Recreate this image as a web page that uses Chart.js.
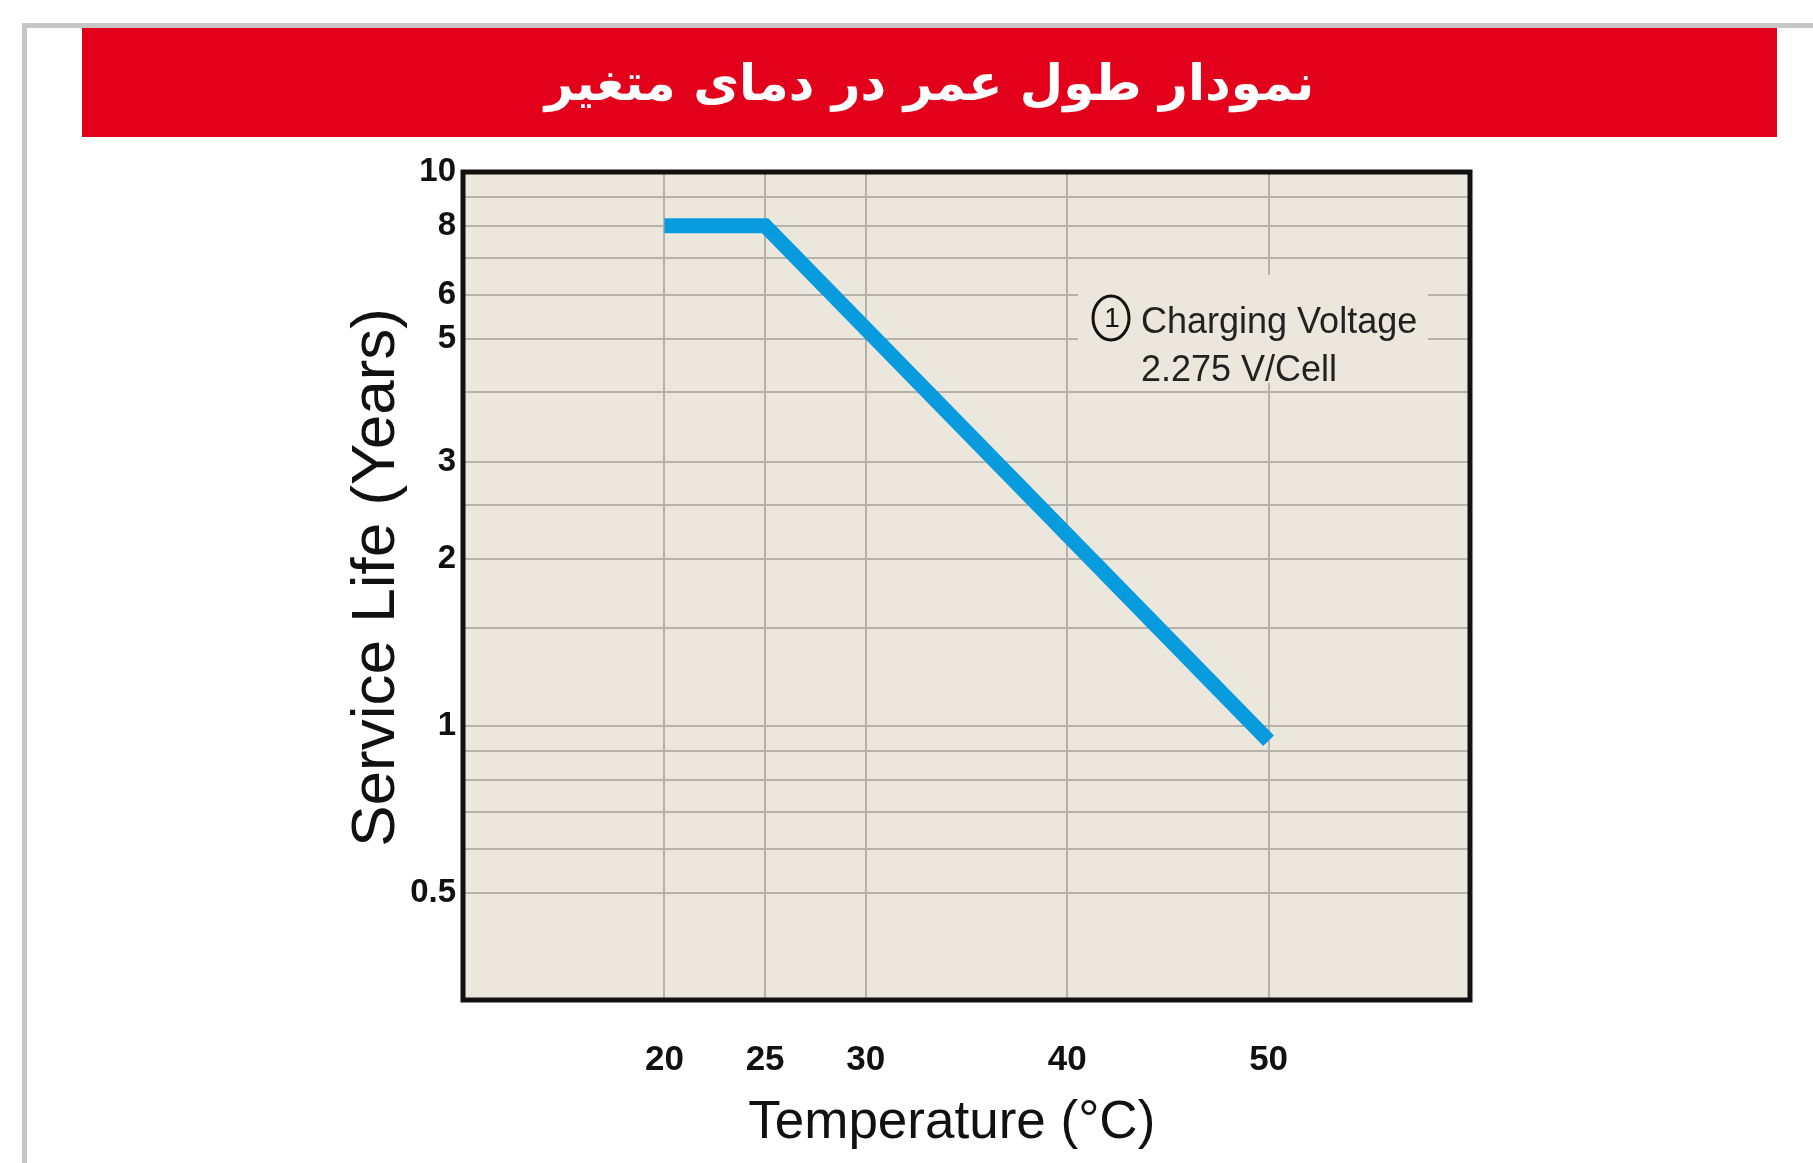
<!DOCTYPE html>
<html>
<head>
<meta charset="utf-8">
<script src="https://cdn.jsdelivr.net/npm/chart.js@4.4.1/dist/chart.umd.min.js"></script>
<style>
  html, body { margin: 0; padding: 0; background: #fff; }
  body { width: 1813px; height: 1163px; position: relative; overflow: hidden; }
  .frame {
    position: absolute; left: 22px; top: 23px; right: -10px; bottom: -10px;
    border-top: 5px solid #c6c6c6; border-left: 5px solid #c6c6c6;
  }
  .banner {
    position: absolute; left: 82px; top: 28px; width: 1695px; height: 109px;
    background: #e2001a; color: #fff;
    display: flex; align-items: center; justify-content: center;
    font-family: "DejaVu Sans", sans-serif; font-weight: bold; font-size: 50px;
    direction: rtl;
  }
  #wrap { position: absolute; left: 0; top: 140px; width: 1813px; height: 1023px; }
</style>
</head>
<body>
<div class="frame"></div>
<div class="banner">نمودار طول عمر در دمای متغیر</div>
<div id="wrap"><canvas id="lifeChart" width="1813" height="1023"></canvas></div>
<script>
// Data
const temps = [20, 25, 50];
const serviceLife = [8, 8, 0.94];

// Axis ticks
const xTicks = [20, 25, 30, 40, 50];
const yGridTicks = [0.5, 0.6, 0.7, 0.8, 0.9, 1, 1.5, 2, 2.5, 3, 4, 5, 6, 7, 8, 9, 10];
const yLabelTicks = [0.5, 1, 2, 3, 5, 6, 8, 10];

const noteLines = ['Charging Voltage', '2.275 V/Cell'];

const FONT = '"Liberation Sans", Arial, Helvetica, sans-serif';
const PLOT_BG = '#ebe7dc';

// Plot background, note box and frame
const plotDecor = {
    id: 'plotDecor',
    beforeDraw(chart) {
        const { ctx, chartArea: a } = chart;
        ctx.save();
        ctx.fillStyle = PLOT_BG;
        ctx.fillRect(a.left, a.top, a.right - a.left, a.bottom - a.top);
        ctx.restore();
    },
    beforeDatasetsDraw(chart) {
        const { ctx, chartArea: a } = chart;
        const left = a.left + 615, top = a.top + 103;
        ctx.save();
        ctx.fillStyle = PLOT_BG;
        ctx.fillRect(left, top, 350, 108);

        // circled "1"
        ctx.strokeStyle = '#111';
        ctx.lineWidth = 3;
        ctx.beginPath();
        ctx.ellipse(left + 33, top + 43, 18, 22, 0, 0, Math.PI * 2);
        ctx.stroke();
        ctx.fillStyle = '#111';
        ctx.font = '28px ' + FONT;
        ctx.textAlign = 'center';
        ctx.textBaseline = 'middle';
        ctx.fillText('1', left + 34, top + 44);

        ctx.font = '36px ' + FONT;
        ctx.textAlign = 'left';
        ctx.textBaseline = 'alphabetic';
        ctx.fillStyle = '#222';
        ctx.fillText(noteLines[0], left + 63, top + 58);
        ctx.fillText(noteLines[1], left + 63, top + 106);
        ctx.restore();
    },
    afterDraw(chart) {
        const { ctx, chartArea: a } = chart;
        ctx.save();
        ctx.strokeStyle = '#111';
        ctx.lineWidth = 5;
        ctx.strokeRect(a.left, a.top, a.right - a.left, a.bottom - a.top);
        ctx.restore();
    }
};

new Chart(document.getElementById('lifeChart'), {
    type: 'line',
    data: {
        datasets: [{
            data: temps.map((t, i) => ({ x: t, y: serviceLife[i] })),
            borderColor: '#089cdf',
            borderWidth: 15,
            borderCapStyle: 'butt',
            borderJoinStyle: 'miter',
            pointRadius: 0,
            tension: 0,
            fill: false
        }]
    },
    options: {
        responsive: false,
        animation: false,
        layout: { padding: { left: 303, right: 343, top: 32, bottom: 8 } },
        plugins: {
            legend: { display: false },
            tooltip: { enabled: false }
        },
        scales: {
            x: {
                type: 'linear',
                min: 10,
                max: 60,
                afterBuildTicks: scale => { scale.ticks = xTicks.map(v => ({ value: v })); },
                afterFit: scale => { scale.height = 155; },
                grid: { color: '#b6b2a9', lineWidth: 2, drawTicks: false },
                border: { display: false },
                ticks: {
                    autoSkip: false,
                    maxRotation: 0,
                    padding: 39,
                    color: '#111',
                    font: { family: FONT, size: 35, weight: 'bold' }
                },
                title: {
                    display: true,
                    text: 'Temperature (°C)  ',
                    color: '#111',
                    padding: { top: 0, bottom: 0 },
                    font: { family: FONT, size: 53 }
                }
            },
            y: {
                type: 'logarithmic',
                bounds: 'data',
                min: 0.32,
                max: 10,
                afterBuildTicks: scale => { scale.ticks = yGridTicks.map(v => ({ value: v })); },
                afterFit: scale => { scale.width = 160; },
                grid: { color: '#b6b2a9', lineWidth: 2, drawTicks: false },
                border: { display: false },
                ticks: {
                    autoSkip: false,
                    padding: 7,
                    color: '#111',
                    font: { family: FONT, size: 33, weight: 'bold' },
                    callback: value => yLabelTicks.includes(value) ? String(value) : ''
                },
                title: {
                    display: true,
                    text: ' Service Life (Years)',
                    color: '#111',
                    padding: { top: 37, bottom: 0 },
                    font: { family: FONT, size: 62 }
                }
            }
        }
    },
    plugins: [plotDecor]
});
</script>
</body>
</html>
